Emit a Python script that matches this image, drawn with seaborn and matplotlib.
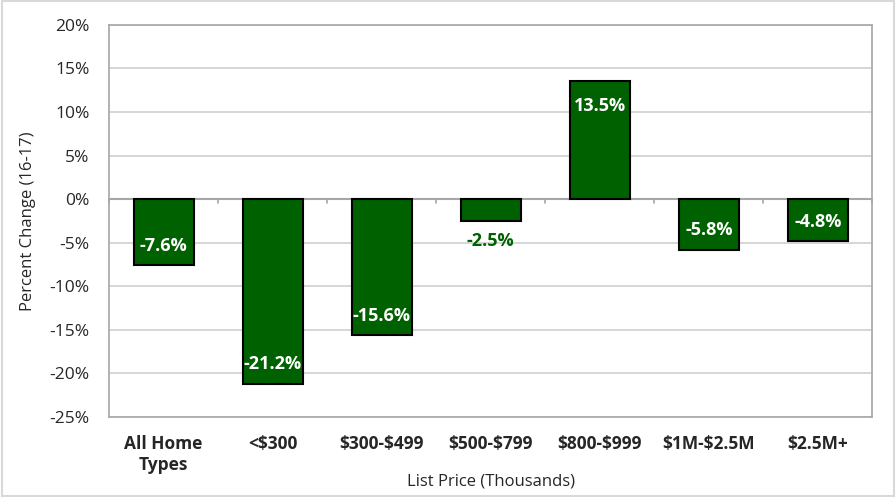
import matplotlib
matplotlib.use("Agg")
import matplotlib.pyplot as plt
import seaborn as sns
import pandas as pd
from matplotlib.patches import Rectangle

categories = ["All Home\nTypes", "<$300", "$300-$499", "$500-$799", "$800-$999", "$1M-$2.5M", "$2.5M+"]
values = [-7.6, -21.2, -15.6, -2.5, 13.5, -5.8, -4.8]
labels = ["-7.6%", "-21.2%", "-15.6%", "-2.5%", "13.5%", "-5.8%", "-4.8%"]
yticks = [-25, -20, -15, -10, -5, 0, 5, 10, 15, 20]

sns.set_theme(style="white")
plt.rcParams['font.family'] = ['Open Sans', 'DejaVu Sans']
plt.rcParams['text.parse_math'] = False

df = pd.DataFrame({"cat": categories, "val": values})
green = "#006100"

fig = plt.figure(figsize=(8.96, 4.97), dpi=100)
ax = fig.add_axes([0.1217, 0.161, 0.852, 0.789])
sns.barplot(data=df, x="cat", y="val", color=green, width=0.55, edgecolor="black",
            linewidth=1.5, saturation=1, ax=ax, zorder=3)

ax.set_ylim(-25, 20)
ax.set_xlim(-0.5, len(categories) - 0.5)
ax.set_yticks(yticks)
ax.set_yticklabels([f"{t}%" for t in yticks], fontsize=12.5)
ax.yaxis.grid(True, color="#d0d0d0", linewidth=1.2, zorder=0)
ax.set_axisbelow(True)
for s in ax.spines.values():
    s.set_color("#a6a6a6")
    s.set_linewidth(1.2)
ax.tick_params(axis="y", length=0, pad=14)
ax.tick_params(axis="x", length=0, pad=13)
ax.set_xticks(range(len(categories)))
ax.set_xticklabels(categories, fontsize=12.5, fontweight="bold")
ax.set_xlabel("List Price (Thousands)", fontsize=12, labelpad=0)
ax.set_ylabel("Percent Change (16-17)", fontsize=12, labelpad=10)

# zero axis line with category boundary ticks
ax.axhline(0, color="#a6a6a6", linewidth=1.5, zorder=2)
for b in range(len(categories) + 1):
    ax.plot([b - 0.5, b - 0.5], [0, -0.45], color="#a6a6a6", linewidth=1.2, zorder=2, clip_on=False)

for i, (v, lab) in enumerate(zip(values, labels)):
    if abs(v) < 4:
        ax.text(i, v - 1.3, lab, ha="center", va="top", color=green, fontsize=13, fontweight="bold", zorder=4)
    elif v < 0:
        ax.text(i, v + 1.2, lab, ha="center", va="bottom", color="white", fontsize=13, fontweight="bold", zorder=4)
    else:
        ax.text(i, v - 1.8, lab, ha="center", va="top", color="white", fontsize=13, fontweight="bold", zorder=4)

fig.patches.append(Rectangle((0.002, 0.003), 0.996, 0.994, transform=fig.transFigure,
                             fill=False, edgecolor="#d9d9d9", linewidth=1.5))

fig.savefig("out.png", dpi=100)
